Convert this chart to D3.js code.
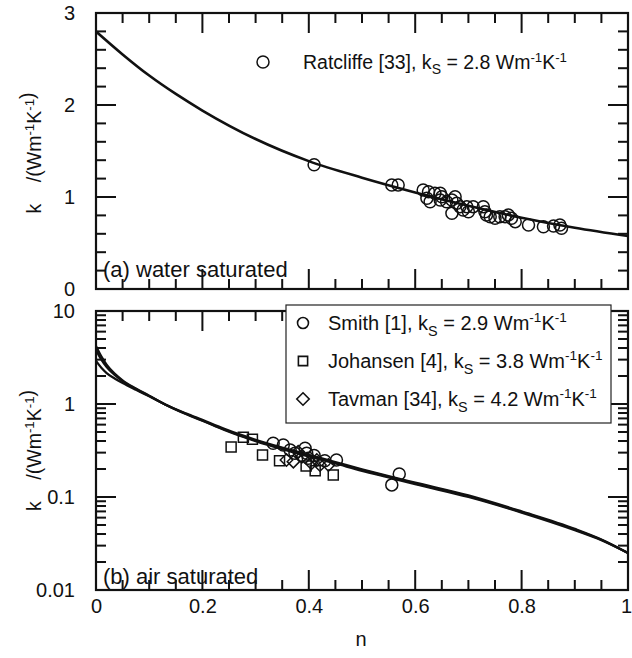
<!DOCTYPE html>
<html>
<head>
<meta charset="utf-8">
<script src="https://cdn.jsdelivr.net/npm/d3@7"></script>
<style>
  html, body { margin: 0; padding: 0; background: #fff; }
  svg { display: block; }
  text { font-family: "Liberation Sans", Arial, sans-serif; fill: #111; }
</style>
</head>
<body>
<svg id="chart" width="632" height="658"></svg>
<script>
// ---------------- data ----------------
const xTicks = [0, 0.2, 0.4, 0.6, 0.8, 1];
const xTickLabels = ["0", "0.2", "0.4", "0.6", "0.8", "1"];
const topYTicks = [0, 1, 2, 3];
const topYTickLabels = ["0", "1", "2", "3"];
const botYTicks = [0.01, 0.1, 1, 10];
const botYTickLabels = ["0.01", "0.1", "1", "10"];

// (a) water saturated – Ratcliffe [33]
const ratcliffeN = [0.41, 0.556, 0.568, 0.615, 0.625, 0.622, 0.628, 0.637, 0.647, 0.650, 0.647, 0.659, 0.669, 0.675, 0.678, 0.669, 0.684, 0.690, 0.697, 0.700, 0.709, 0.728, 0.731, 0.734, 0.741, 0.750, 0.759, 0.769, 0.775, 0.781, 0.788, 0.813, 0.841, 0.860, 0.872, 0.875];
const ratcliffeK = [1.35, 1.13, 1.13, 1.076, 1.058, 0.986, 0.949, 1.04, 1.04, 1.003, 0.967, 0.949, 0.967, 1.003, 0.931, 0.823, 0.895, 0.859, 0.895, 0.840, 0.895, 0.895, 0.840, 0.804, 0.786, 0.768, 0.786, 0.786, 0.804, 0.768, 0.732, 0.696, 0.677, 0.685, 0.696, 0.660];

// model curve, ks = 2.8
const waterCurveN = [0, 0.05, 0.1, 0.15, 0.2, 0.3, 0.4, 0.5, 0.6, 0.7, 0.8, 0.9, 1.0];
const waterCurveK = [2.8, 2.55, 2.32, 2.12, 1.94, 1.63, 1.39, 1.21, 1.05, 0.905, 0.775, 0.665, 0.575];

// (b) air saturated
const smithN = [0.333, 0.352, 0.365, 0.374, 0.393, 0.396, 0.399, 0.41, 0.43, 0.452, 0.570, 0.556];
const smithK = [0.378, 0.362, 0.32, 0.295, 0.334, 0.295, 0.261, 0.28, 0.245, 0.25, 0.177, 0.135];
const johansenN = [0.254, 0.277, 0.294, 0.313, 0.345, 0.395, 0.412, 0.446];
const johansenK = [0.345, 0.44, 0.417, 0.283, 0.246, 0.215, 0.192, 0.172];
const tavmanN = [0.358, 0.371, 0.38, 0.387, 0.405, 0.415, 0.421, 0.437];
const tavmanK = [0.25, 0.24, 0.307, 0.271, 0.23, 0.25, 0.221, 0.221];

// model curves for ks = 2.9, 3.8, 4.2
const airCurveN   = [0, 0.01, 0.02, 0.035, 0.05, 0.075, 0.1, 0.13, 0.17, 0.2, 0.24, 0.27, 0.3, 0.35, 0.4, 0.45, 0.5, 0.55, 0.6, 0.7, 0.8, 0.9, 0.95, 1.0];
const airCurveK29 = [2.9, 2.45, 2.15, 1.88, 1.68, 1.42, 1.21, 0.99, 0.79, 0.675, 0.545, 0.471, 0.413, 0.34, 0.284, 0.238, 0.199, 0.168, 0.143, 0.104, 0.070, 0.0455, 0.035, 0.025];
const airCurveK38 = [3.8, 3.0, 2.5, 2.05, 1.76, 1.45, 1.22, 0.99, 0.78, 0.665, 0.535, 0.462, 0.405, 0.333, 0.278, 0.233, 0.195, 0.165, 0.140, 0.102, 0.069, 0.0447, 0.0347, 0.025];
const airCurveK42 = [4.2, 3.25, 2.65, 2.12, 1.80, 1.47, 1.23, 0.99, 0.775, 0.66, 0.528, 0.455, 0.399, 0.327, 0.273, 0.229, 0.191, 0.162, 0.137, 0.100, 0.068, 0.044, 0.0343, 0.025];

// ---------------- layout ----------------
const svg = d3.select("#chart");
const X0 = 96, X1 = 628;
const TOP = { y0: 13, y1: 289 };
const BOT = { y0: 311, y1: 590 };

const x = d3.scaleLinear().domain([0, 1]).range([X0, X1]);
const yTop = d3.scaleLinear().domain([0, 3]).range([TOP.y1, TOP.y0]);
const yBot = d3.scaleLog().domain([0.01, 10]).range([BOT.y1, BOT.y0]);

const MAJ = 20, MIN = 10, TW = 2;
const tickFont = 20;
const INK = "#111";

function labelAxis(g) {
  g.select(".domain").remove();
  g.selectAll(".tick line").remove();
  g.selectAll(".tick text").style("font-size", tickFont + "px").attr("fill", INK)
    .style("font-family", '"Liberation Sans", Arial, sans-serif');
}

const xMinor = d3.range(0, 1.0001, 0.05).map(v => +v.toFixed(2)).filter(v => !xTicks.some(t => Math.abs(t - v) < 1e-6));
const topMinor = d3.range(0, 3.0001, 0.2).map(v => +v.toFixed(2)).filter(v => !topYTicks.some(t => Math.abs(t - v) < 1e-6));
const botMinor = [];
[0.01, 0.1, 1].forEach(dec => { for (let m = 2; m <= 9; m++) botMinor.push(+(dec * m).toPrecision(3)); });

// tick marks as small filled rectangles (inward on all four sides)
const tickRects = [];
function hTicks(values, scale, len) {
  values.forEach(v => {
    const yy = scale(v);
    tickRects.push({ x: X0, y: yy - TW / 2, w: len, h: TW });
    tickRects.push({ x: X1 - len, y: yy - TW / 2, w: len, h: TW });
  });
}
function vTicks(values, panel, len) {
  values.forEach(v => {
    const xx = x(v);
    tickRects.push({ x: xx - TW / 2, y: panel.y1 - len, w: TW, h: len });
    tickRects.push({ x: xx - TW / 2, y: panel.y0, w: TW, h: len });
  });
}
hTicks(topMinor, yTop, MIN); hTicks(topYTicks, yTop, MAJ);
hTicks(botMinor, yBot, MIN); hTicks(botYTicks, yBot, MAJ);
[TOP, BOT].forEach(p => { vTicks(xMinor, p, MIN); vTicks(xTicks, p, MAJ); });

// tick labels through d3 axes
svg.append("g").attr("transform", `translate(${X0},0)`)
  .call(d3.axisLeft(yTop).tickValues(topYTicks).tickSize(0).tickPadding(21)
    .tickFormat((d, i) => topYTickLabels[i])).call(labelAxis);
svg.append("g").attr("transform", `translate(${X0},0)`)
  .call(d3.axisLeft(yBot).tickValues(botYTicks).tickSize(0).tickPadding(21)
    .tickFormat((d, i) => botYTickLabels[i])).call(labelAxis);
svg.append("g").attr("transform", `translate(0,${BOT.y1})`)
  .call(d3.axisBottom(x).tickValues(xTicks).tickSize(0).tickPadding(9)
    .tickFormat((d, i) => xTickLabels[i])).call(labelAxis)
  .selectAll(".tick text").filter(d => d === 1).attr("dx", -2);

// frames
[TOP, BOT].forEach(p => {
  svg.append("rect").attr("x", X0).attr("y", p.y0).attr("width", X1 - X0).attr("height", p.y1 - p.y0)
    .attr("fill", "none").attr("stroke", INK).attr("stroke-width", 2.2);
});

// ---------- clip paths ----------
const defs = svg.append("defs");
defs.append("clipPath").attr("id", "clipTop").append("rect")
  .attr("x", X0).attr("y", TOP.y0).attr("width", X1 - X0).attr("height", TOP.y1 - TOP.y0);
defs.append("clipPath").attr("id", "clipBot").append("rect")
  .attr("x", X0).attr("y", BOT.y0).attr("width", X1 - X0).attr("height", BOT.y1 - BOT.y0);

// ---------- top curve + points ----------
const lineTop = d3.line().x(d => x(d[0])).y(d => yTop(d[1])).curve(d3.curveMonotoneX);
svg.append("path").attr("clip-path", "url(#clipTop)")
  .attr("d", lineTop(d3.zip(waterCurveN, waterCurveK)))
  .attr("fill", "none").attr("stroke", INK).attr("stroke-width", 2.6);

svg.append("g").selectAll("circle").data(d3.zip(ratcliffeN, ratcliffeK)).join("circle")
  .attr("cx", d => x(d[0])).attr("cy", d => yTop(d[1])).attr("r", 6)
  .attr("fill", "none").attr("stroke", INK).attr("stroke-width", 1.5);

// ---------- bottom curves + points ----------
const lineBot = d3.line().x(d => x(d[0])).y(d => yBot(d[1])).curve(d3.curveMonotoneX);
[airCurveK29, airCurveK38, airCurveK42].forEach(ks => {
  svg.append("path").attr("clip-path", "url(#clipBot)")
    .attr("d", lineBot(d3.zip(airCurveN, ks)))
    .attr("fill", "none").attr("stroke", INK).attr("stroke-width", 2.2);
});

const diamondPath = s => `M0,${-s}L${s},0L0,${s}L${-s},0Z`;
const sym = {
  circle: () => d3.symbol().type(d3.symbolCircle).size(Math.PI * 36)(),
  square: () => d3.symbol().type(d3.symbolSquare).size(100)(),
  diamond: () => diamondPath(6.2)
};
function drawPts(N, K, shape) {
  svg.append("g").selectAll("path").data(d3.zip(N, K)).join("path")
    .attr("transform", d => `translate(${x(d[0])},${yBot(d[1])})`)
    .attr("d", sym[shape]())
    .attr("fill", "none").attr("stroke", INK).attr("stroke-width", 1.5);
}
drawPts(johansenN, johansenK, "square");
drawPts(tavmanN, tavmanK, "diamond");
drawPts(smithN, smithK, "circle");

// tick marks above the plot content, below the legend box
svg.append("g").attr("class", "ticks").selectAll("rect").data(tickRects).join("rect")
  .attr("x", d => d.x).attr("y", d => d.y).attr("width", d => d.w).attr("height", d => d.h)
  .attr("fill", INK);

// ---------- rich text helper ----------
function rich(g, parts, size) {
  const t = g.append("text").style("font-size", size + "px").attr("xml:space", "preserve");
  let shift = 0;
  parts.forEach(p => {
    const [str, kind] = typeof p === "string" ? [p, "n"] : p;
    let target = 0, fs = size;
    if (kind === "sup") { target = -0.38 * size; fs = size * 0.68; }
    if (kind === "sub") { target = 0.28 * size; fs = size * 0.72; }
    t.append("tspan").attr("dy", target - shift).style("font-size", fs + "px").text(str);
    shift = target;
  });
  return t;
}

// top legend
svg.append("circle").attr("cx", 263).attr("cy", 62).attr("r", 6)
  .attr("fill", "none").attr("stroke", INK).attr("stroke-width", 1.5);
rich(svg.append("g").attr("transform", "translate(303,69)"),
  ["Ratcliffe [33], k", ["S", "sub"], " = 2.8 Wm", ["-1", "sup"], "K", ["-1", "sup"]], 19.5);

// panel labels
svg.append("text").attr("x", 103).attr("y", 277).style("font-size", "22px").text("(a) water saturated");
svg.append("text").attr("x", 103).attr("y", 584).style("font-size", "22px").text("(b) air saturated");

// bottom legend box
svg.append("rect").attr("x", 286).attr("y", 305).attr("width", 325).attr("height", 118)
  .attr("fill", "#fff").attr("stroke", "#222").attr("stroke-width", 1.2);
const legRows = [
  { shape: "circle", y: 323, label: "Smith [1], k", v: "2.9" },
  { shape: "square", y: 361, label: "Johansen [4], k", v: "3.8" },
  { shape: "diamond", y: 399, label: "Tavman [34], k", v: "4.2" }
];
const legSym = {
  circle: () => d3.symbol().type(d3.symbolCircle).size(Math.PI * 30)(),
  square: () => d3.symbol().type(d3.symbolSquare).size(85)(),
  diamond: () => diamondPath(6.2)
};
legRows.forEach(r => {
  svg.append("path").attr("transform", `translate(303,${r.y})`).attr("d", legSym[r.shape]())
    .attr("fill", "none").attr("stroke", INK).attr("stroke-width", 1.6);
  rich(svg.append("g").attr("transform", `translate(328,${r.y + 7})`),
    [r.label, ["S", "sub"], ` = ${r.v} Wm`, ["-1", "sup"], "K", ["-1", "sup"]], 20);
});

// axis titles
svg.append("text").attr("x", x(0.5) - 1).attr("y", 646).attr("text-anchor", "middle")
  .style("font-size", "20px").text("n");
[(TOP.y0 + TOP.y1) / 2 + 2, (BOT.y0 + BOT.y1) / 2].forEach(cy => {
  const g = svg.append("g").attr("transform", `translate(41,${cy}) rotate(-90)`);
  const t = rich(g, ["k    /(Wm", ["-1", "sup"], "K", ["-1", "sup"], ["", "n"], ")"], 19.5);
  t.attr("text-anchor", "middle");
});
</script>
</body>
</html>
